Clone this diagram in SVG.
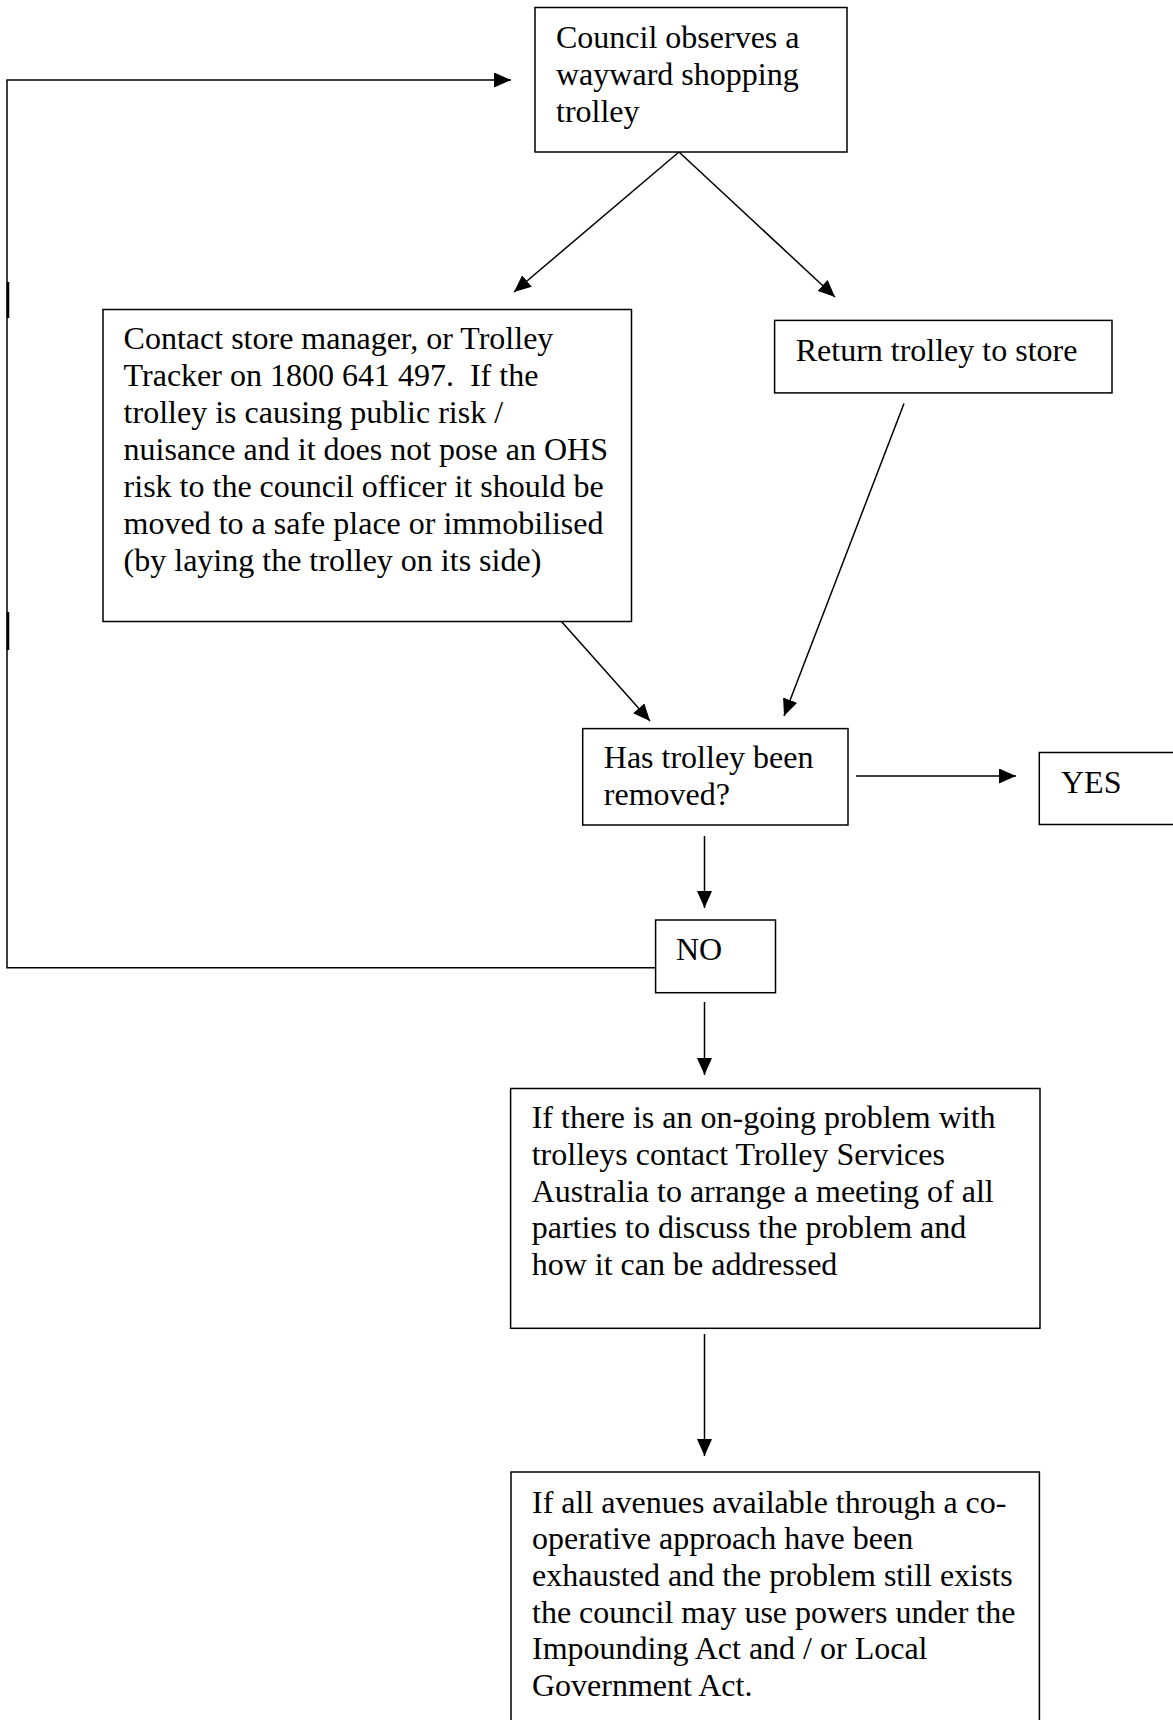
<svg xmlns="http://www.w3.org/2000/svg" width="1173" height="1720" viewBox="0 0 1173 1720">
<style>
.box{fill:#fff;stroke:#000;stroke-width:1.5}
.t{font-family:"Liberation Serif","Times New Roman",serif;font-size:32px;fill:#000;white-space:pre}
.c{fill:none;stroke:#000;stroke-width:1.5}
</style>
<defs>
<marker id="ah" markerUnits="userSpaceOnUse" markerWidth="17" markerHeight="15" refX="17" refY="7.5" orient="auto">
<path d="M0,0 L17,7.5 L0,15 z" fill="#000"/>
</marker>
</defs>
<rect width="1173" height="1720" fill="#fff"/>
<g id="connectors">
<path class="c" d="M655.6,967.7 H7 V80 H511" marker-end="url(#ah)"/>
<line x1="8" y1="282" x2="8" y2="318" stroke="#000" stroke-width="2.5"/>
<line x1="8" y1="612" x2="8" y2="650" stroke="#000" stroke-width="2.5"/>
<line class="c" x1="679" y1="152" x2="514" y2="292" marker-end="url(#ah)"/>
<line class="c" x1="679" y1="152" x2="835" y2="297" marker-end="url(#ah)"/>
<line class="c" x1="561" y1="621" x2="650" y2="721" marker-end="url(#ah)"/>
<line class="c" x1="904" y1="403.6" x2="784" y2="716" marker-end="url(#ah)"/>
<line class="c" x1="856" y1="776" x2="1016" y2="776" marker-end="url(#ah)"/>
<line class="c" x1="704.5" y1="836" x2="704.5" y2="908" marker-end="url(#ah)"/>
<line class="c" x1="704.5" y1="1002" x2="704.5" y2="1075" marker-end="url(#ah)"/>
<line class="c" x1="704.5" y1="1334" x2="704.5" y2="1456" marker-end="url(#ah)"/>
</g>
<g id="observe">
<rect class="box" x="535" y="7.5" width="312" height="144.5"/>
<text class="t" x="556" y="48">Council observes a</text>
<text class="t" x="556" y="85">wayward shopping</text>
<text class="t" x="556" y="122">trolley</text>
</g>
<g id="contact">
<rect class="box" x="103" y="309.5" width="528.5" height="312"/>
<text class="t" x="123.6" y="349.3">Contact store manager, or Trolley</text>
<text class="t" x="123.6" y="386.3" xml:space="preserve">Tracker on 1800 641 497.  If the</text>
<text class="t" x="123.6" y="423.3">trolley is causing public risk /</text>
<text class="t" x="123.6" y="460.3">nuisance and it does not pose an OHS</text>
<text class="t" x="123.6" y="497.3">risk to the council officer it should be</text>
<text class="t" x="123.6" y="534.3">moved to a safe place or immobilised</text>
<text class="t" x="123.6" y="571.3">(by laying the trolley on its side)</text>
</g>
<g id="return">
<rect class="box" x="774.6" y="320.4" width="337.4" height="72.5"/>
<text class="t" x="795.7" y="361.4">Return trolley to store</text>
</g>
<g id="removed">
<rect class="box" x="582.7" y="728.6" width="265.3" height="96.4"/>
<text class="t" x="603.8" y="768">Has trolley been</text>
<text class="t" x="603.8" y="805">removed?</text>
</g>
<g id="yes">
<rect class="box" x="1039.3" y="752.5" width="200" height="72"/>
<text class="t" x="1061" y="793">YES</text>
</g>
<g id="no">
<rect class="box" x="655.6" y="920" width="119.9" height="72.7"/>
<text class="t" x="676" y="960">NO</text>
</g>
<g id="ongoing">
<rect class="box" x="510.6" y="1088.5" width="529.4" height="239.8"/>
<text class="t" x="531.7" y="1128.3">If there is an on-going problem with</text>
<text class="t" x="531.7" y="1165">trolleys contact Trolley Services</text>
<text class="t" x="531.7" y="1201.7">Australia to arrange a meeting of all</text>
<text class="t" x="531.7" y="1238.3">parties to discuss the problem and</text>
<text class="t" x="531.7" y="1275">how it can be addressed</text>
</g>
<g id="powers">
<rect class="box" x="511" y="1472" width="528.4" height="300"/>
<text class="t" x="532" y="1512.7">If all avenues available through a co-</text>
<text class="t" x="532" y="1549.3">operative approach have been</text>
<text class="t" x="532" y="1586">exhausted and the problem still exists</text>
<text class="t" x="532" y="1622.7">the council may use powers under the</text>
<text class="t" x="532" y="1659.3">Impounding Act and / or Local</text>
<text class="t" x="532" y="1696">Government Act.</text>
</g>
</svg>
